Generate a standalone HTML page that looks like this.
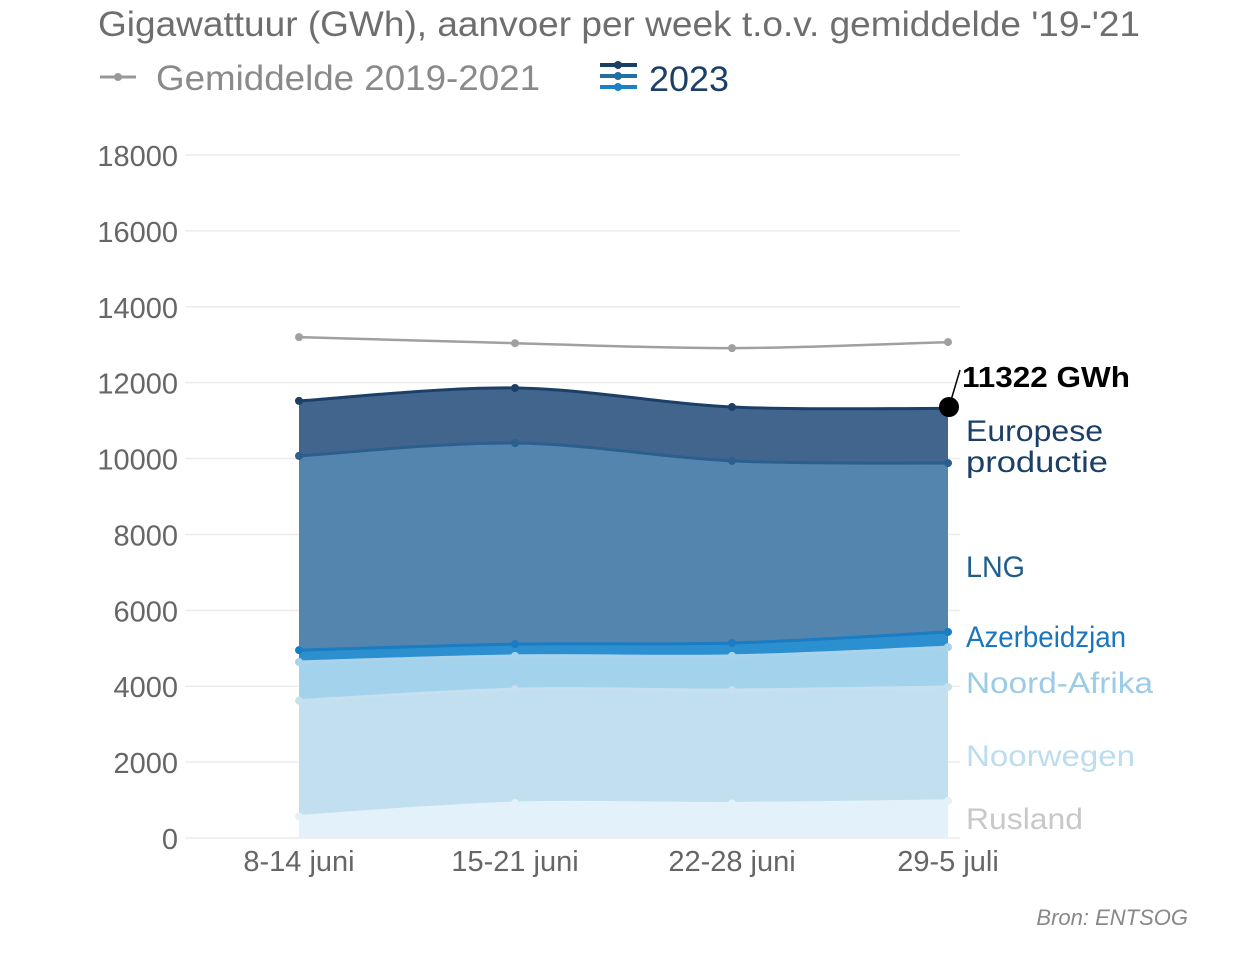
<!DOCTYPE html>
<html><head><meta charset="utf-8"><style>
body{margin:0;background:#fff;width:1250px;height:956px;overflow:hidden;font-family:"Liberation Sans",sans-serif}
</style></head><body>
<svg id="s" width="1250" height="956" xmlns="http://www.w3.org/2000/svg" font-family="Liberation Sans, sans-serif">
<text x="98" y="36" font-size="35" fill="#6e6e6e" textLength="1042" lengthAdjust="spacingAndGlyphs">Gigawattuur (GWh), aanvoer per week t.o.v. gemiddelde '19-'21</text>
<line x1="100" y1="77" x2="136" y2="77" stroke="#999" stroke-width="3"/><circle cx="118" cy="77" r="4" fill="#999"/>
<text x="156" y="90" font-size="35" fill="#8a8a8a" textLength="384" lengthAdjust="spacingAndGlyphs">Gemiddelde 2019-2021</text>
<line x1="600" y1="65" x2="637" y2="65" stroke="#1b3f66" stroke-width="4"/><circle cx="618" cy="65" r="4" fill="#1b3f66"/>
<line x1="600" y1="76" x2="637" y2="76" stroke="#236ea3" stroke-width="4"/><circle cx="618" cy="76" r="4" fill="#236ea3"/>
<line x1="600" y1="87" x2="637" y2="87" stroke="#1a82c8" stroke-width="4"/><circle cx="618" cy="87" r="4" fill="#1a82c8"/>
<text x="649" y="91" font-size="35" fill="#1b3f66" textLength="80" lengthAdjust="spacingAndGlyphs">2023</text>
<g id="grid"></g><g id="areas"></g>
<text x="966" y="441" font-size="30" fill="#1b3f66" textLength="137" lengthAdjust="spacingAndGlyphs">Europese</text>
<text x="966" y="472" font-size="30" fill="#1b3f66" textLength="142" lengthAdjust="spacingAndGlyphs">productie</text>
<text x="966" y="577" font-size="30" fill="#1f5d8c" textLength="59" lengthAdjust="spacingAndGlyphs">LNG</text>
<text x="966" y="647" font-size="30" fill="#1a76bd" textLength="160" lengthAdjust="spacingAndGlyphs">Azerbeidzjan</text>
<text x="966" y="693" font-size="30" fill="#9ccbe6" textLength="187" lengthAdjust="spacingAndGlyphs">Noord-Afrika</text>
<text x="966" y="766" font-size="30" fill="#bcdcef" textLength="169" lengthAdjust="spacingAndGlyphs">Noorwegen</text>
<text x="966" y="829" font-size="30" fill="#c8c8c8" textLength="117" lengthAdjust="spacingAndGlyphs">Rusland</text>
<line x1="949" y1="407" x2="960" y2="370" stroke="#000" stroke-width="1.5"/>
<circle cx="949" cy="407" r="10" fill="#000"/>
<text x="962" y="387" font-size="29" font-weight="bold" fill="#000" textLength="168" lengthAdjust="spacingAndGlyphs">11322 GWh</text>
<text x="1188" y="925" font-size="22" fill="#888" text-anchor="end" font-style="italic">Bron: ENTSOG</text>
</svg>
<script>
var X=[299,515,732,948];
function Y(v){return 838-v*(683/18000);}
var g=document.getElementById('grid'),h='';
for(var v=0;v<=18000;v+=2000){var y=Y(v);h+='<line x1="185" x2="960" y1="'+y+'" y2="'+y+'" stroke="#ececec" stroke-width="1.5"/><text x="178" y="'+(y+11)+'" font-size="29" fill="#666" text-anchor="end">'+v+'</text>';}
['8-14 juni','15-21 juni','22-28 juni','29-5 juli'].forEach(function(t,i){h+='<text x="'+X[i]+'" y="871" font-size="29" fill="#666" text-anchor="middle">'+t+'</text>';});
g.innerHTML=h;
function pts(a){return a.map(function(v,i){return [X[i],Y(v)];});}
function curve(p){var d='';for(var i=0;i<p.length-1;i++){var p0=p[Math.max(i-1,0)],p1=p[i],p2=p[i+1],p3=p[Math.min(i+2,p.length-1)];
var c1=[p1[0]+(p2[0]-p0[0])/6,p1[1]+(p2[1]-p0[1])/6],c2=[p2[0]-(p3[0]-p1[0])/6,p2[1]-(p3[1]-p1[1])/6];
d+=' C'+c1+' '+c2+' '+p2;}return d;}
var L=[
{v:[11520,11860,11360,11322],fill:'#42658d',line:'#1b3f66'},
{v:[10070,10410,9940,9880],fill:'#5385ae',line:'#2b5f8d'},
{v:[4950,5110,5140,5430],fill:'#2b8fd0',line:'#1a7cc3'},
{v:[4640,4800,4800,5030],fill:'#a3d3ec',line:'#a8d3ea'},
{v:[3620,3920,3900,3980],fill:'#c2dff0',line:'#c6e0f0'},
{v:[570,920,910,980],fill:'#e2f1fa',line:'#e4f1f9'}];
var a='';
L.forEach(function(s){var p=pts(s.v);a+='<path d="M'+p[0]+curve(p)+' L948,838 L299,838 Z" fill="'+s.fill+'"/>';});
L.forEach(function(s){var p=pts(s.v);a+='<path d="M'+p[0]+curve(p)+'" fill="none" stroke="'+s.line+'" stroke-width="3"/>';p.forEach(function(q){a+='<circle cx="'+q[0]+'" cy="'+q[1]+'" r="4" fill="'+s.line+'"/>';});});
var p=pts([13200,13040,12910,13070]);a+='<path d="M'+p[0]+curve(p)+'" fill="none" stroke="#a0a0a0" stroke-width="2.5"/>';p.forEach(function(q){a+='<circle cx="'+q[0]+'" cy="'+q[1]+'" r="4" fill="#a0a0a0"/>';});
document.getElementById('areas').innerHTML=a;
</script>
</body></html>
